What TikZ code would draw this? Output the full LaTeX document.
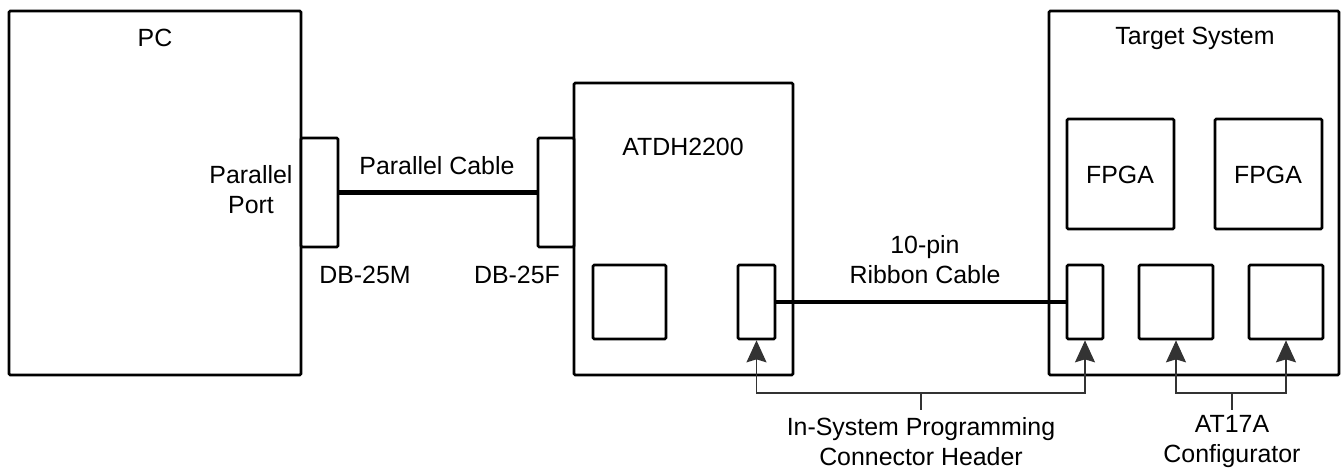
\documentclass[tikz,border=0pt]{standalone}
\usepackage{fontspec}
\setmainfont{Liberation Sans}
\usetikzlibrary{arrows.meta,fit}
\begin{document}
\begin{tikzpicture}[x=0.5pt,y=-0.5pt,
  box/.style={draw=black,line width=1.35pt,rounded corners=0.6pt,inner sep=0pt,fill=white},
  cable/.style={draw=black,line width=2.3pt},
  lead/.style={draw=black!80,line width=0.55pt},
  leadarr/.style={lead,-{Stealth[length=11pt,width=10pt,inset=1.5pt]}},
  lbl/.style={font=\fontsize{12.45}{15}\selectfont,align=center,inner sep=0pt}]
\useasboundingbox (0,0) rectangle (1341,470);
% main boxes
\node[box,fit={(9,11) (301,375)}] (pc) {};
\node[box,fit={(574,83) (793,375)}] (atdh) {};
\node[box,fit={(1049,11) (1339,375)}] (tgt) {};
\node[box,fit={(301,138) (338,247)}] (db25m) {};
\node[box,fit={(538,138) (574,247)}] (db25f) {};
\node[box,fit={(593,265) (666,339)}] (chip) {};
\node[box,fit={(738,265) (775,339)}] (hdra) {};
\node[box,fit={(1067,119) (1174,229)}] (fpgaa) {};
\node[box,fit={(1215,119) (1322,229)}] (fpgab) {};
\node[box,fit={(1067,265) (1103,339)}] (hdrb) {};
\node[box,fit={(1139,265) (1213,339)}] (cfga) {};
\node[box,fit={(1249,265) (1323,339)}] (cfgb) {};
% cables
\draw[cable] (db25m.east) -- (db25f.west);
\draw[cable] (hdra.east) -- (hdrb.west);
% labels
\node[lbl] (pcl) at (155,38) {PC};
\node[lbl] (tgtl) at (1195,38) {Target System};
\node[lbl] (ppl) at (251,190) {Parallel\\Port};
\node[lbl] (pcabl) at (437,166) {Parallel Cable};
\node[lbl] (dbml) at (365,275) {DB-25M};
\node[lbl] (dbfl) at (517,275) {DB-25F};
\node[lbl] (atdhl) at (683,147) {ATDH2200};
\node[lbl] (fpgaal) at (1120,175) {FPGA};
\node[lbl] (fpgabl) at (1268,175) {FPGA};
\node[lbl] (ribl) at (925,260) {10-pin\\Ribbon Cable};
\node[lbl] (ispl) at (921,442) {In-System Programming\\Connector Header};
\node[lbl] (cfgl) at (1232,442) {AT17A\\Configurator};
% leaders
\coordinate (ispj) at (921,393);
\coordinate (ispe) at (921,410);
\coordinate (cfgj) at (1232,393);
\coordinate (cfge) at (1232,410);
\draw[lead] (ispe) -- (ispj);
\draw[leadarr] (ispj) -| (hdra.south);
\draw[leadarr] (ispj) -| (hdrb.south);
\draw[lead] (cfge) -- (cfgj);
\draw[leadarr] (cfgj) -| (cfga.south);
\draw[leadarr] (cfgj) -| (cfgb.south);
\end{tikzpicture}
\end{document}
